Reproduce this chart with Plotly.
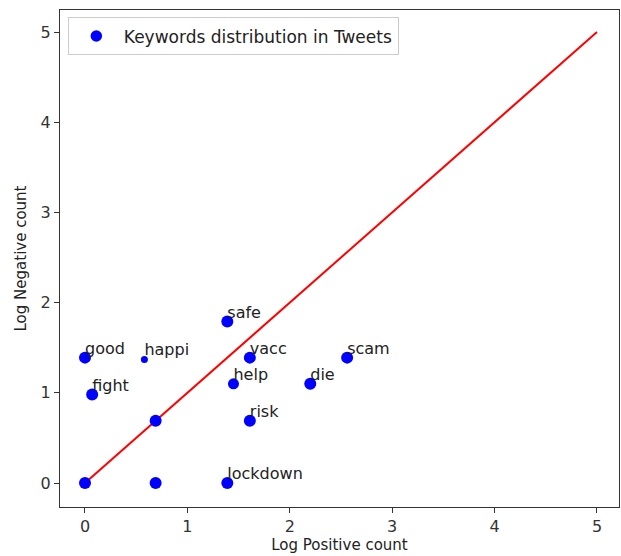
import plotly.graph_objects as go

words = ["", "", "lockdown", "", "risk", "fight", "good", "happi", "safe", "vacc", "help", "die", "scam"]
log_pos = [0.0, 0.69, 1.39, 0.69, 1.61, 0.07, 0.0, 0.58, 1.39, 1.61, 1.45, 2.20, 2.56]
log_neg = [0.0, 0.0, 0.0, 0.69, 0.69, 0.98, 1.39, 1.37, 1.79, 1.39, 1.10, 1.10, 1.39]
marker_sizes = [12, 12, 12, 12, 12, 12, 12, 7, 12, 12, 11, 12, 12]
diag = [0, 5]

fig = go.Figure()
fig.add_trace(go.Scatter(
    x=diag, y=diag, mode="lines", line=dict(color="red", width=2),
    showlegend=False, hoverinfo="skip"))
fig.add_trace(go.Scatter(
    x=log_pos, y=log_neg, mode="markers",
    marker=dict(color="blue", size=marker_sizes, opacity=1, line=dict(width=0)),
    name="Keywords distribution in Tweets"))
fig.add_trace(go.Scatter(
    x=log_pos, y=log_neg, mode="text", text=words,
    textposition="top right",
    textfont=dict(family="DejaVu Sans", size=16, color="#222"),
    showlegend=False, hoverinfo="skip"))

axis_common = dict(
    showgrid=False, zeroline=False, showline=True, linecolor="#333", linewidth=1,
    mirror=True, ticks="outside", ticklen=5, tickcolor="#333",
    tickfont=dict(family="DejaVu Sans", size=16, color="#333"),
    tickvals=[0, 1, 2, 3, 4, 5], automargin=False,
)
fig.update_layout(
    width=621, height=556,
    margin=dict(l=60, r=2, t=10, b=49),
    paper_bgcolor="white", plot_bgcolor="white",
    font=dict(family="DejaVu Sans", color="#222"),
    xaxis=dict(range=[-0.244, 5.215], title=dict(text="Log Positive count", font=dict(size=15), standoff=4), **axis_common),
    yaxis=dict(range=[-0.266, 5.244], title=dict(text="Log Negative count", font=dict(size=15), standoff=10), **axis_common),
    legend=dict(x=0.014, y=0.985, xanchor="left", yanchor="top",
                bgcolor="white", bordercolor="#ccc", borderwidth=1,
                itemwidth=45,
                font=dict(size=17, color="#222")),
)
fig.write_html(
    "out.html",
    config={"displayModeBar": False},
    post_script="document.body.style.margin='0';document.body.style.padding='0';document.body.style.overflow='hidden';",
)
